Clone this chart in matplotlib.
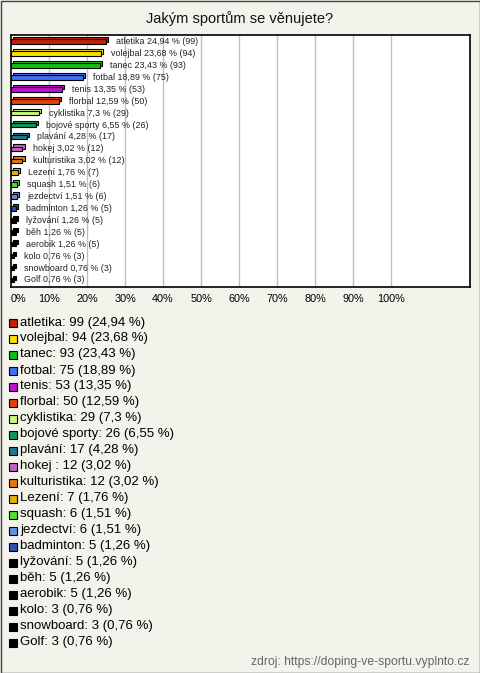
import matplotlib
matplotlib.use("Agg")
import matplotlib.pyplot as plt
from matplotlib.patches import Rectangle

plt.rcParams['font.family'] = ['Liberation Sans', 'DejaVu Sans']

categories = ["atletika", "volejbal", "tanec", "fotbal", "tenis", "florbal", "cyklistika",
              "bojové sporty", "plavání", "hokej", "kulturistika", "Lezení", "squash",
              "jezdectví", "badminton", "lyžování", "běh", "aerobik", "kolo", "snowboard", "Golf"]
legend_names = ["atletika", "volejbal", "tanec", "fotbal", "tenis", "florbal", "cyklistika",
                "bojové sporty", "plavání", "hokej ", "kulturistika", "Lezení", "squash",
                "jezdectví", "badminton", "lyžování", "běh", "aerobik", "kolo", "snowboard", "Golf"]
counts = [99, 94, 93, 75, 53, 50, 29, 26, 17, 12, 12, 7, 6, 6, 5, 5, 5, 5, 3, 3, 3]
percents = [24.94, 23.68, 23.43, 18.89, 13.35, 12.59, 7.3, 6.55, 4.28, 3.02, 3.02, 1.76,
            1.51, 1.51, 1.26, 1.26, 1.26, 1.26, 0.76, 0.76, 0.76]
pct_labels = ["24,94", "23,68", "23,43", "18,89", "13,35", "12,59", "7,3", "6,55", "4,28",
              "3,02", "3,02", "1,76", "1,51", "1,51", "1,26", "1,26", "1,26", "1,26",
              "0,76", "0,76", "0,76"]
colors = ["#c0200c", "#f8e000", "#10c010", "#4070f0", "#c010d0", "#e04010", "#c8f880",
          "#109858", "#207888", "#c060c0", "#e07810", "#e0b010", "#50e030", "#6890e0",
          "#3050b0", "#000000", "#000000", "#000000", "#000000", "#000000", "#000000"]
xticks = [0, 10, 20, 30, 40, 50, 60, 70, 80, 90, 100]
xtick_labels = [f"{t}%" for t in xticks]
title = "Jakým sportům se věnujete?"
source = "zdroj: https://doping-ve-sportu.vyplnto.cz"

W, H = 480, 673
bg = "#f3f3eb"
fig = plt.figure(figsize=(W / 100, H / 100), dpi=100, facecolor=bg)

# axes in pixel coordinates
L, R, T, B = 11, 470, 35, 287
ax = fig.add_axes([L / W, 1 - B / H, (R - L) / W, (B - T) / H])
ax.set_facecolor("white")
n = len(categories)
ax.set_xlim(0, (R - L) / 3.8)
ax.set_ylim(n - 1 + 0.59, -0.56)

for t in xticks[1:]:
    ax.axvline(t, color="#c0c0c0", lw=1.0, zorder=0)

ypos = list(range(n))
bh = 0.38
dx = 0.55
dy = 0.18
for y, v, c in zip(ypos, percents, colors):
    ax.barh(y - dy, v, left=dx, height=bh, color=c, edgecolor="black", lw=0.8, zorder=2)
    ax.barh(y, v, height=bh, color=c, edgecolor="black", lw=0.8, zorder=3)

for y, v, cat, pl, cnt in zip(ypos, percents, categories, pct_labels, counts):
    ax.annotate(f"{cat} {pl} % ({cnt})", xy=(v, y), xytext=(7.3, 0), textcoords="offset points",
                va="center", ha="left", fontsize=6.4, color="#222222", zorder=4)

ax.set_yticks([])
ax.set_xticks(xticks)
ax.set_xticklabels(xtick_labels, fontsize=7.8)
ax.get_xticklabels()[0].set_ha("left")
ax.tick_params(axis="x", length=0, pad=5)
for s in ax.spines.values():
    s.set_color("black")
    s.set_linewidth(1.2)

fig.text(240 / W, 1 - 19 / H, title, ha="center", va="center", fontsize=10.5, color="#111111")

# legend
ly0 = 322.5
lsp = 16.0
for i, (name, cnt, pl, c) in enumerate(zip(legend_names, counts, pct_labels, colors)):
    yy = ly0 + i * lsp
    fig.patches.append(Rectangle((9 / W, 1 - (yy + 4) / H), 8 / W, 8 / H,
                                 transform=fig.transFigure, facecolor=c,
                                 edgecolor="black", lw=0.8))
    fig.text(20 / W, 1 - yy / H, f"{name}: {cnt} ({pl} %)", ha="left", va="center",
             fontsize=9.5, color="black")

fig.text(469 / W, 1 - 662 / H, source, ha="right", va="center", fontsize=8.7, color="#666666")

fig.patches.append(Rectangle((0.5 / W, 0.5 / H), (W - 1) / W, (H - 1) / H,
                             transform=fig.transFigure, facecolor="none",
                             edgecolor="#444444", lw=1.0))

fig.savefig("out.png", dpi=100, facecolor=bg)
